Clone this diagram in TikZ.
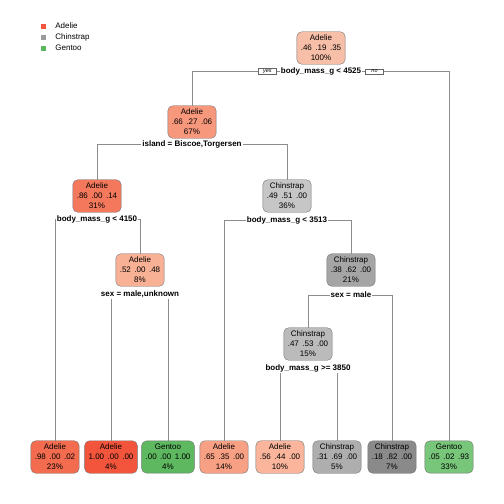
\documentclass[tikz,border=0pt]{standalone}
\usepackage{fontspec}
\setmainfont{Liberation Sans}
\usetikzlibrary{positioning}

\definecolor{adA}{HTML}{F8BFA8}
\definecolor{adB}{HTML}{F7977C}
\definecolor{adC}{HTML}{F4795C}
\definecolor{adD}{HTML}{F9B196}
\definecolor{adE}{HTML}{F36C50}
\definecolor{adF}{HTML}{F2553C}
\definecolor{adG}{HTML}{F8A084}
\definecolor{adH}{HTML}{FAB59C}
\definecolor{chA}{HTML}{C6C6C6}
\definecolor{chB}{HTML}{A5A5A5}
\definecolor{chC}{HTML}{BBBBBB}
\definecolor{chD}{HTML}{AEAEAE}
\definecolor{chE}{HTML}{8A8A8A}
\definecolor{geA}{HTML}{5DB85F}
\definecolor{geB}{HTML}{78C67A}
\definecolor{legAd}{HTML}{F4553C}
\definecolor{legCh}{HTML}{9A9A9A}
\definecolor{legGe}{HTML}{5CB85C}

\newcommand{\leaftxt}[5]{#1\\#2\hspace{3.5pt}#3\hspace{3.5pt}#4\\#5}
\newcommand{\bm}{body\_mass\_g}

\tikzset{
  tnode/.style={draw=black!55, rounded corners=5pt, minimum height=30pt,
    inner xsep=4pt, align=center, font=\fontsize{8}{10}\selectfont},
  split/.style={fill=white, inner xsep=1pt, inner ysep=1pt,
    font=\fontsize{8}{9}\selectfont\bfseries},
  branch/.style={draw=black!45, line width=0.6pt},
  tag/.style={draw=black!60, fill=white, inner xsep=1pt, inner ysep=0.8pt,
    minimum width=18pt, font=\fontsize{5.5}{6}\selectfont\itshape},
  legsq/.style={minimum size=5pt, inner sep=0pt},
  legtxt/.style={inner sep=0pt, font=\fontsize{8}{9}\selectfont},
}

\begin{document}
\begin{tikzpicture}[x=1pt, y=-1pt]
\useasboundingbox (0,0) rectangle (504,504);

% legend
\node[legsq, fill=legAd] (la) at (43.5,26) {};
\node[legsq, fill=legCh] (lc) at (43.5,37) {};
\node[legsq, fill=legGe] (lg) at (43.5,48) {};
\node[legtxt, anchor=west] at ([xshift=9pt]la.east) {Adelie};
\node[legtxt, anchor=west] at ([xshift=9pt]lc.east) {Chinstrap};
\node[legtxt, anchor=west] at ([xshift=9pt]lg.east) {Gentoo};

% inner nodes
\node[tnode, fill=adA] (n1) at (321,48) {\leaftxt{Adelie}{.46}{.19}{.35}{100\%}};
\node[tnode, fill=adB] (n2) at (192,122) {\leaftxt{Adelie}{.66}{.27}{.06}{67\%}};
\node[tnode, fill=adC] (n3) at (97,196) {\leaftxt{Adelie}{.86}{.00}{.14}{31\%}};
\node[tnode, fill=chA] (n4) at (287,196) {\leaftxt{Chinstrap}{.49}{.51}{.00}{36\%}};
\node[tnode, fill=adD] (n5) at (140,270) {\leaftxt{Adelie}{.52}{.00}{.48}{8\%}};
\node[tnode, fill=chB] (n6) at (351,270) {\leaftxt{Chinstrap}{.38}{.62}{.00}{21\%}};
\node[tnode, fill=chC] (n7) at (308,344) {\leaftxt{Chinstrap}{.47}{.53}{.00}{15\%}};

% leaves
\node[tnode, fill=adE] (l1) at (55,457) {\leaftxt{Adelie}{.98}{.00}{.02}{23\%}};
\node[tnode, fill=adF] (l2) at (111,457) {\leaftxt{Adelie}{1.00}{.00}{.00}{4\%}};
\node[tnode, fill=geA] (l3) at (168,457) {\leaftxt{Gentoo}{.00}{.00}{1.00}{4\%}};
\node[tnode, fill=adG] (l4) at (224,457) {\leaftxt{Adelie}{.65}{.35}{.00}{14\%}};
\node[tnode, fill=adH] (l5) at (280,457) {\leaftxt{Adelie}{.56}{.44}{.00}{10\%}};
\node[tnode, fill=chD] (l6) at (337,457) {\leaftxt{Chinstrap}{.31}{.69}{.00}{5\%}};
\node[tnode, fill=chE] (l7) at (392,457) {\leaftxt{Chinstrap}{.18}{.82}{.00}{7\%}};
\node[tnode, fill=geB] (l8) at (449,457) {\leaftxt{Gentoo}{.05}{.02}{.93}{33\%}};

% split points
\coordinate (s1) at (321,71.5);
\coordinate (s2) at (192,144.5);
\coordinate (s3) at (97,219);
\coordinate (s4) at (287,220);
\coordinate (s5) at (140,294);
\coordinate (s6) at (351,295);
\coordinate (s7) at (308,368.5);

% branches
\draw[branch] (n2.north) |- (s1) -| (l8.north);
\draw[branch] (n3.north) |- (s2) -| (n4.north);
\draw[branch] (l1.north) |- (s3) -| (n5.north);
\draw[branch] (l4.north) |- (s4) -| (n6.north);
\draw[branch] (l2.north) |- (s5) -| (l3.north);
\draw[branch] (n7.north) |- (s6) -| (l7.north);
\draw[branch] (l5.north) |- (s7) -| (l6.north);

% split labels
\node[split] (t1) at (s1) {\bm{} < 4525};
\node[tag, left=3pt of t1] (yes) {yes};
\node[tag, right=3pt of t1] (no) {no};
\node[split] at (s2) {island = Biscoe,Torgersen};
\node[split] at (s3) {\bm{} < 4150};
\node[split] at (s4) {\bm{} < 3513};
\node[split] at (s5) {sex = male,unknown};
\node[split] at (s6) {sex = male};
\node[split] at (s7) {\bm{} >= 3850};

\end{tikzpicture}
\end{document}
